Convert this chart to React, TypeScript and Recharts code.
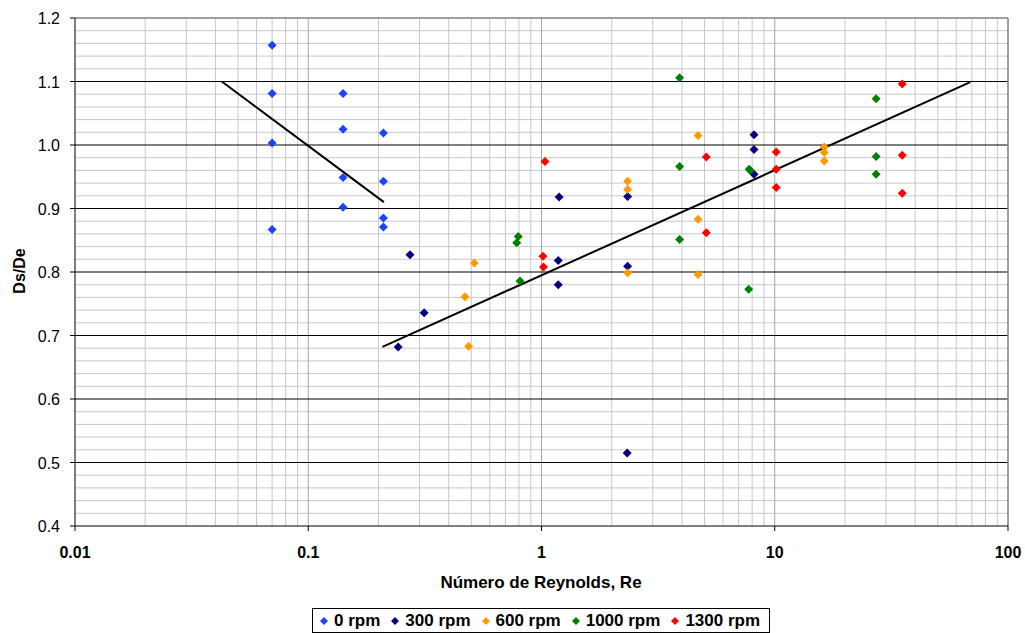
import { ScatterChart, Scatter, XAxis, YAxis, ReferenceLine, Label } from 'recharts';

// Reynolds number (x) vs Ds/De (y), one array per stirring speed
const rpm0 = [
  { re: 0.07, ds: 1.157 },
  { re: 0.07, ds: 1.081 },
  { re: 0.07, ds: 1.003 },
  { re: 0.07, ds: 0.867 },
  { re: 0.141, ds: 1.081 },
  { re: 0.141, ds: 1.025 },
  { re: 0.141, ds: 0.949 },
  { re: 0.141, ds: 0.902 },
  { re: 0.21, ds: 1.019 },
  { re: 0.21, ds: 0.943 },
  { re: 0.21, ds: 0.885 },
  { re: 0.21, ds: 0.871 },
];

const rpm300 = [
  { re: 0.243, ds: 0.682 },
  { re: 0.273, ds: 0.827 },
  { re: 0.314, ds: 0.736 },
  { re: 1.19, ds: 0.918 },
  { re: 1.18, ds: 0.818 },
  { re: 1.18, ds: 0.78 },
  { re: 2.34, ds: 0.919 },
  { re: 2.34, ds: 0.809 },
  { re: 2.33, ds: 0.515 },
  { re: 8.15, ds: 1.016 },
  { re: 8.15, ds: 0.993 },
  { re: 8.15, ds: 0.954 },
];

const rpm600 = [
  { re: 0.47, ds: 0.761 },
  { re: 0.487, ds: 0.683 },
  { re: 0.515, ds: 0.814 },
  { re: 2.34, ds: 0.943 },
  { re: 2.34, ds: 0.93 },
  { re: 2.34, ds: 0.799 },
  { re: 4.69, ds: 1.015 },
  { re: 4.69, ds: 0.883 },
  { re: 4.69, ds: 0.796 },
  { re: 16.3, ds: 0.997 },
  { re: 16.3, ds: 0.988 },
  { re: 16.3, ds: 0.975 },
];

const rpm1000 = [
  { re: 0.795, ds: 0.856 },
  { re: 0.783, ds: 0.846 },
  { re: 0.809, ds: 0.786 },
  { re: 3.91, ds: 1.106 },
  { re: 3.91, ds: 0.966 },
  { re: 3.91, ds: 0.851 },
  { re: 7.77, ds: 0.962 },
  { re: 7.85, ds: 0.96 },
  { re: 7.73, ds: 0.773 },
  { re: 27.2, ds: 1.073 },
  { re: 27.2, ds: 0.982 },
  { re: 27.2, ds: 0.954 },
];

const rpm1300 = [
  { re: 1.035, ds: 0.974 },
  { re: 1.015, ds: 0.825 },
  { re: 1.02, ds: 0.808 },
  { re: 5.09, ds: 0.981 },
  { re: 5.09, ds: 0.862 },
  { re: 10.15, ds: 0.989 },
  { re: 10.15, ds: 0.962 },
  { re: 10.15, ds: 0.933 },
  { re: 35.2, ds: 1.096 },
  { re: 35.2, ds: 0.984 },
  { re: 35.2, ds: 0.924 },
];

// fitted trend lines (end points)
const trendLow = [
  { re: 0.0426, ds: 1.1 },
  { re: 0.211, ds: 0.91 },
];
const trendHigh = [
  { re: 0.208, ds: 0.682 },
  { re: 68.9, ds: 1.099 },
];

const seriesNames = ['0 rpm', '300 rpm', '600 rpm', '1000 rpm', '1300 rpm'];
const seriesColors = ['#1a44ff', '#000080', '#ff9900', '#008000', '#ff0000'];
const seriesData = [rpm0, rpm300, rpm600, rpm1000, rpm1300];

const xTicks = [0.01, 0.1, 1, 10, 100];
const yTicks = [0.4, 0.5, 0.6, 0.7, 0.8, 0.9, 1.0, 1.1, 1.2];

// log-style minor grid: 2..9 within each decade
const xMinor: number[] = [];
[0.01, 0.1, 1, 10].forEach((d) => {
  for (let k = 2; k <= 9; k++) xMinor.push(+(d * k).toPrecision(3));
});
const yMinor: number[] = [];
for (let i = 1; i < 40; i++) {
  if (i % 5 !== 0) yMinor.push(+(0.4 + i * 0.02).toFixed(2));
}

const FONT = '"Liberation Sans", Arial, sans-serif';

const Diamond = (color: string) => (props: any) => {
  const { cx, cy } = props;
  if (cx == null || cy == null) return <g />;
  const r = 4.5;
  return (
    <polygon
      points={`${cx},${cy - r} ${cx + r},${cy} ${cx},${cy + r} ${cx - r},${cy}`}
      fill={color}
    />
  );
};

const XTick = (props: any) => {
  const { x, y, payload } = props;
  return (
    <text x={x} y={y + 27} textAnchor="middle" fontFamily={FONT} fontSize={16} fontWeight="bold" fill="#000">
      {String(payload.value)}
    </text>
  );
};

const YTick = (props: any) => {
  const { x, y, payload } = props;
  return (
    <text x={x} y={y + 6} textAnchor="end" fontFamily={FONT} fontSize={16} fill="#000">
      {payload.value.toFixed(1)}
    </text>
  );
};

export default function App() {
  return (
    <div style={{ position: 'absolute', left: 0, top: 0, width: 1025, height: 633, background: '#fff' }}>
      <ScatterChart width={1025} height={633} margin={{ top: 18, right: 17, bottom: 0, left: 0 }}>
        <XAxis
          dataKey="re"
          type="number"
          scale="log"
          domain={[0.01, 100]}
          ticks={xTicks}
          allowDataOverflow
          height={107}
          stroke="#000"
          tickSize={5}
          tickMargin={0}
          tick={<XTick />}
        >
          <Label
            content={() => (
              <text x={541} y={588} textAnchor="middle" fontFamily={FONT} fontSize={17} fontWeight="bold" fill="#000">
                Número de Reynolds, Re
              </text>
            )}
          />
        </XAxis>
        <YAxis
          dataKey="ds"
          type="number"
          domain={[0.4, 1.2]}
          ticks={yTicks}
          allowDataOverflow
          width={75}
          stroke="#000"
          tickSize={5}
          tickMargin={10}
          tick={<YTick />}
        >
          <Label
            content={() => (
              <text
                transform="translate(25,271) rotate(-90)"
                textAnchor="middle"
                fontFamily={FONT}
                fontSize={16}
                fontWeight="bold"
                fill="#000"
              >
                Ds/De
              </text>
            )}
          />
        </YAxis>

        {xMinor.map((v) => (
          <ReferenceLine key={`xm${v}`} x={v} stroke="#c8c8c8" strokeWidth={1} />
        ))}
        {yMinor.map((v) => (
          <ReferenceLine key={`ym${v}`} y={v} stroke="#c8c8c8" strokeWidth={1} />
        ))}
        {[0.1, 1, 10].map((v) => (
          <ReferenceLine key={`xd${v}`} x={v} stroke="#a6a6a6" strokeWidth={1} />
        ))}
        {yTicks.slice(1, -1).map((v) => (
          <ReferenceLine key={`yM${v}`} y={v} stroke="#000" strokeWidth={1} />
        ))}
        <ReferenceLine y={1.2} stroke="#808080" strokeWidth={1.5} />
        <ReferenceLine x={100} stroke="#808080" strokeWidth={1.5} />

        <Scatter
          data={trendLow}
          line={{ stroke: '#000', strokeWidth: 2 }}
          shape={() => <g />}
          isAnimationActive={false}
        />
        <Scatter
          data={trendHigh}
          line={{ stroke: '#000', strokeWidth: 2 }}
          shape={() => <g />}
          isAnimationActive={false}
        />
        {seriesData.map((data, i) => (
          <Scatter
            key={seriesNames[i]}
            name={seriesNames[i]}
            data={data}
            shape={Diamond(seriesColors[i])}
            isAnimationActive={false}
          />
        ))}
      </ScatterChart>

      <div
        style={{
          position: 'absolute',
          left: 312,
          top: 608,
          width: 458,
          height: 25,
          border: '1px solid #000',
          display: 'flex',
          alignItems: 'center',
          paddingLeft: 7,
          gap: 11,
          fontFamily: FONT,
          fontSize: 17,
          fontWeight: 'bold',
          color: '#000',
          boxSizing: 'border-box',
        }}
      >
        {seriesNames.map((name, i) => (
          <div key={name} style={{ display: 'flex', alignItems: 'center', gap: 6 }}>
            <svg width={8} height={8}>
              <polygon points="4,0 8,4 4,8 0,4" fill={seriesColors[i]} />
            </svg>
            <span>{name}</span>
          </div>
        ))}
      </div>
    </div>
  );
}
